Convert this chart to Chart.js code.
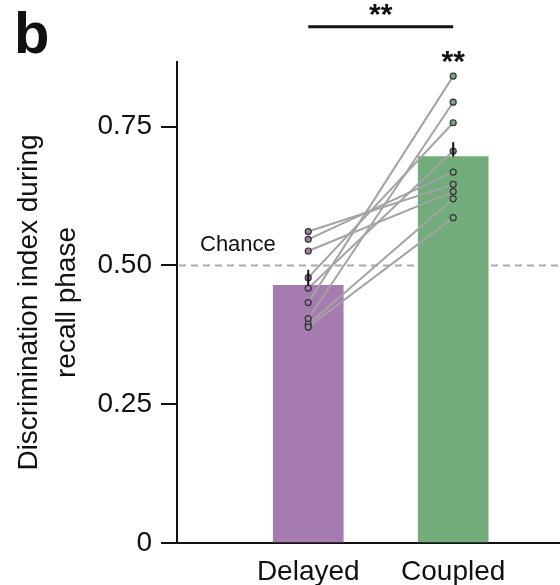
<!DOCTYPE html>
<html>
<head>
<meta charset="utf-8">
<script src="https://cdn.jsdelivr.net/npm/chart.js@4.4.1/dist/chart.umd.min.js"></script>
<style>
  html, body { margin: 0; padding: 0; background: #fff; }
  #wrap { width: 560px; height: 585px; position: relative; }
</style>
</head>
<body>
<div id="wrap"><canvas id="c" width="560" height="585"></canvas></div>
<script>
// ---- data ----
const categories = ['Delayed', 'Coupled'];
const barMeans = [0.464, 0.696];
const barSem = [0.028, 0.026];
const delayedValues = [0.561, 0.547, 0.526, 0.478, 0.459, 0.433, 0.404, 0.394, 0.389];
const coupledValues = [0.646, 0.668, 0.633, 0.757, 0.706, 0.841, 0.794, 0.620, 0.586];
const yTickValues = [0, 0.25, 0.5, 0.75];
const yTickLabels = ['0', '0.25', '0.50', '0.75'];
const chanceLevel = 0.5;
const panelLabel = 'b';
const sigBetween = '**';
const sigCoupled = '**';

// ---- styles ----
const FONT = "'Liberation Sans', Arial, Helvetica, sans-serif";
const purple = '#a67cb0';
const green = '#72ac7a';
const catX = [1, 2];

const pairDatasets = delayedValues.map((d, i) => ({
  type: 'line',
  data: [{x: catX[0], y: d}, {x: catX[1], y: coupledValues[i]}],
  borderColor: '#a3a3a3',
  borderWidth: 2,
  pointRadius: 0,
  fill: false,
  order: 5
}));

const pointDatasets = [
  { type: 'scatter', data: delayedValues.map(v => ({x: catX[0], y: v})),
    pointRadius: 3, pointBackgroundColor: purple, pointBorderColor: '#333', pointBorderWidth: 1.2, order: 1 },
  { type: 'scatter', data: coupledValues.map(v => ({x: catX[1], y: v})),
    pointRadius: 3, pointBackgroundColor: green, pointBorderColor: '#333', pointBorderWidth: 1.2, order: 1 }
];

const annot = {
  id: 'annot',
  beforeDatasetsDraw(chart) {
    const {ctx, chartArea, scales: {x, y}} = chart;
    const yc = y.getPixelForValue(chanceLevel);
    ctx.save();
    ctx.strokeStyle = '#aaaaaa';
    ctx.lineWidth = 2;
    ctx.setLineDash([7, 5]);
    ctx.beginPath();
    ctx.moveTo(chartArea.left + 2, yc);
    ctx.lineTo(560, yc);
    ctx.stroke();
    ctx.setLineDash([]);
    ctx.fillStyle = '#111';
    ctx.font = '22px ' + FONT;
    ctx.textAlign = 'left';
    ctx.textBaseline = 'middle';
    ctx.fillText('Chance', 200, y.getPixelForValue(0.537));
    ctx.restore();
  },
  afterDatasetsDraw(chart) {
    const {ctx, chartArea, scales: {x, y}} = chart;
    ctx.save();
    // extend x-axis line to the right edge of the figure
    ctx.strokeStyle = '#111';
    ctx.lineWidth = 2;
    const yAxis = y.getPixelForValue(0);
    ctx.beginPath();
    ctx.moveTo(chartArea.right - 1, yAxis);
    ctx.lineTo(560, yAxis);
    ctx.stroke();
    barMeans.forEach((m, i) => {
      const px = x.getPixelForValue(catX[i]);
      ctx.beginPath();
      ctx.moveTo(px, y.getPixelForValue(m));
      ctx.lineTo(px, y.getPixelForValue(m + barSem[i]));
      ctx.stroke();
    });
    // significance bracket
    const x1 = x.getPixelForValue(catX[0]);
    const x2 = x.getPixelForValue(catX[1]);
    const yb = y.getPixelForValue(0.930);
    ctx.lineWidth = 3;
    ctx.beginPath();
    ctx.moveTo(x1, yb);
    ctx.lineTo(x2, yb);
    ctx.stroke();
    ctx.fillStyle = '#111';
    ctx.font = 'bold 30px ' + FONT;
    ctx.textAlign = 'center';
    ctx.textBaseline = 'alphabetic';
    ctx.fillText(sigBetween, (x1 + x2) / 2, 24);
    ctx.fillText(sigCoupled, x2, 71);
    // panel label
    ctx.font = 'bold 58px ' + FONT;
    ctx.textAlign = 'left';
    ctx.fillText(panelLabel, 14, 53);
    ctx.restore();
  }
};

new Chart(document.getElementById('c'), {
  type: 'bar',
  data: {
    datasets: [
      {
        type: 'bar',
        data: barMeans.map((m, i) => ({x: catX[i], y: m})),
        backgroundColor: [purple, green],
        borderWidth: 0,
        barThickness: 70,
        order: 10
      },
      ...pairDatasets,
      ...pointDatasets
    ]
  },
  options: {
    responsive: false,
    animation: false,
    events: [],
    layout: { padding: { top: 62, right: 0, left: 0, bottom: 0 } },
    plugins: { legend: { display: false }, tooltip: { enabled: false } },
    scales: {
      x: {
        type: 'linear',
        offset: false,
        min: 0.0945,
        max: 2.701,
        grid: { display: false, drawTicks: false, offset: false },
        border: { display: true, color: '#111', width: 2 },
        afterBuildTicks: (s) => { s.ticks = catX.map(v => ({value: v})); },
        afterFit: (s) => { s.height = 42; },
        ticks: {
          autoSkip: false,
          maxRotation: 0,
          padding: 12,
          color: '#111',
          font: { family: FONT, size: 28 },
          callback: (v) => { const i = catX.indexOf(v); return i >= 0 ? categories[i] : ''; }
        }
      },
      y: {
        type: 'linear',
        min: 0,
        max: 0.8664,
        afterBuildTicks: (s) => { s.ticks = yTickValues.map(v => ({value: v})); },
        afterFit: (s) => { s.width = 177; },
        grid: { drawOnChartArea: false, drawTicks: true, tickLength: 16, color: '#111', lineWidth: 2 },
        border: { display: true, color: '#111', width: 2 },
        ticks: {
          padding: 9,
          color: '#111',
          font: { family: FONT, size: 28 },
          callback: (v) => { const i = yTickValues.indexOf(v); return i >= 0 ? yTickLabels[i] : ''; }
        },
        title: {
          display: true,
          text: ['Discrimination index during', 'recall phase'],
          color: '#111',
          font: { family: FONT, size: 28, lineHeight: 1.36 },
          padding: { top: 10, bottom: 0 }
        }
      }
    }
  },
  plugins: [annot]
});
</script>
</body>
</html>
